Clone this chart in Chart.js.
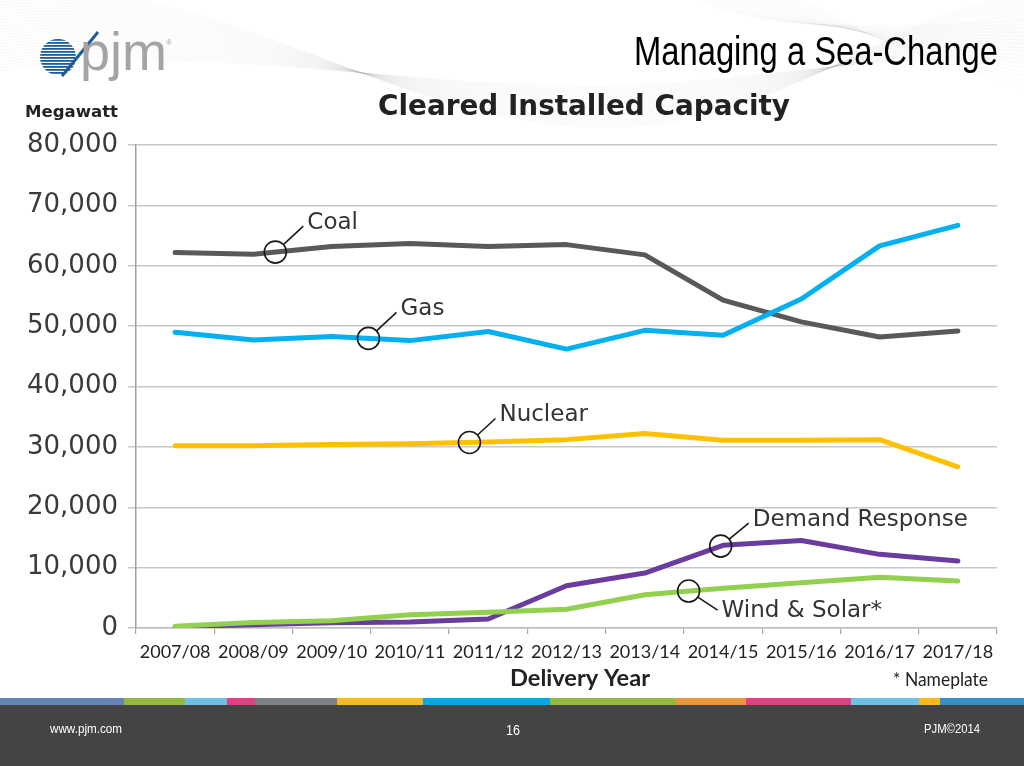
<!DOCTYPE html>
<html>
<head>
<meta charset="utf-8">
<script src="https://cdn.jsdelivr.net/npm/chart.js@4.4.1/dist/chart.umd.min.js"></script>
<style>
  html, body { margin: 0; padding: 0; background: #ffffff; }
  #wrap { width: 1024px; height: 766px; position: relative; }
  canvas { display: block; }
</style>
</head>
<body>
<div id="wrap"><canvas id="c" width="1024" height="766"></canvas></div>
<script>
// ---- Data ----
const categories = ['2007/08','2008/09','2009/10','2010/11','2011/12','2012/13','2013/14','2014/15','2015/16','2016/17','2017/18'];
const coal = [62200, 61900, 63200, 63700, 63200, 63500, 61800, 54300, 50700, 48200, 49200];
const gas = [49000, 47700, 48300, 47600, 49100, 46200, 49300, 48500, 54500, 63300, 66700];
const nuclear = [30200, 30200, 30400, 30500, 30800, 31200, 32200, 31100, 31100, 31200, 26700];
const demandResponse = [200, 550, 850, 1000, 1500, 7000, 9100, 13700, 14500, 12200, 11100];
const windSolar = [300, 900, 1200, 2200, 2600, 3100, 5500, 6600, 7500, 8400, 7800];
const yTicks = [0, 10000, 20000, 30000, 40000, 50000, 60000, 70000, 80000];

const seriesNames = ['Gas', 'Coal', 'Nuclear', 'Wind & Solar*', 'Demand Response'];
const seriesData = [gas, coal, nuclear, windSolar, demandResponse];
const seriesColors = ['#00b0f0', '#595959', '#ffc000', '#92d050', '#6a3c9e'];

// callouts: label text, series index, fractional category position, text offset
const callouts = [
  { text: 'Coal', series: 1, at: 1.28, dx: 32, dy: -29 },
  { text: 'Gas', series: 0, at: 2.47, dx: 32, dy: -29 },
  { text: 'Nuclear', series: 2, at: 3.76, dx: 30, dy: -27 },
  { text: 'Demand Response', series: 4, at: 6.97, dx: 32, dy: -26 },
  { text: 'Wind & Solar*', series: 3, at: 6.56, dx: 33, dy: 20 }
];

const stripeColors = ['#6585b8','#92b83e','#6ec1e4','#e0407f','#7b8087','#f5bb1d','#00a9e3','#92b83e','#e9963d','#e0407f','#6ec1e4','#f5bb1d','#3a8ec8'];
const stripeStops = [0,124,185,227,255,337,423,550,676,746,851,919,940,1024];

// ---- Plugins ----
const backgroundPlugin = {
  id: 'bg',
  beforeDraw(chart) {
    const ctx = chart.ctx;
    ctx.save();
    ctx.fillStyle = '#ffffff';
    ctx.fillRect(0, 0, 1024, 766);
    // faint decorative swooshes at the top
    ctx.lineWidth = 0.5;
    for (let i = 0; i < 28; i++) {
      ctx.strokeStyle = 'rgba(160,160,160,0.13)';
      ctx.beginPath();
      ctx.moveTo(0, -10 + i * 3);
      ctx.bezierCurveTo(230, -30 + i * 2.5, 420, 150 - i * 2, 650, 125 - i * 1.5);
      ctx.bezierCurveTo(820, 100 - i, 900, 10 + i * 1.5, 1024, -5 + i * 2.5);
      ctx.stroke();
    }
    for (let i = 0; i < 18; i++) {
      ctx.strokeStyle = 'rgba(160,160,160,0.12)';
      ctx.beginPath();
      ctx.moveTo(700 + i * 6, 0);
      ctx.bezierCurveTo(760 + i * 4, 30 - i, 880, 30 + i, 1024, 20 + i * 4);
      ctx.stroke();
    }
    // footer
    for (let i = 0; i < stripeColors.length; i++) {
      ctx.fillStyle = stripeColors[i];
      ctx.fillRect(stripeStops[i], 698, stripeStops[i + 1] - stripeStops[i], 7);
    }
    ctx.fillStyle = '#444444';
    ctx.fillRect(0, 705, 1024, 61);

    // logo emblem
    ctx.save();
    ctx.beginPath();
    ctx.arc(58, 57, 18, 0, Math.PI * 2);
    ctx.clip();
    ctx.fillStyle = '#1c5d99';
    for (let y = 39; y < 76; y += 3) {
      ctx.fillRect(40, y, 36, 1.8);
    }
    ctx.restore();
    ctx.strokeStyle = '#1c5d99';
    ctx.lineWidth = 3;
    ctx.beginPath();
    ctx.moveTo(62, 76);
    ctx.lineTo(98, 32);
    ctx.stroke();
    ctx.fillStyle = '#a4a4a4';
    ctx.font = '54px "Liberation Sans", Arial, sans-serif';
    ctx.textBaseline = 'alphabetic';
    ctx.textAlign = 'left';
    ctx.fillText('pjm', 80, 70);
    ctx.font = '8px "Liberation Sans", Arial, sans-serif';
    ctx.fillText('®', 166, 45);
    ctx.restore();
  }
};

function drawFitted(ctx, text, x, y, targetW, align) {
  const w = ctx.measureText(text).width;
  const s = targetW / w;
  ctx.save();
  ctx.textAlign = 'left';
  const left = align === 'right' ? x - targetW : (align === 'center' ? x - targetW / 2 : x);
  ctx.translate(left, y);
  ctx.scale(s, 1);
  ctx.fillText(text, 0, 0);
  ctx.restore();
}

const textPlugin = {
  id: 'texts',
  afterDraw(chart) {
    const ctx = chart.ctx;
    ctx.save();
    ctx.textBaseline = 'middle';
    // slide heading
    ctx.fillStyle = '#000000';
    ctx.font = '40px "Liberation Sans Narrow", "Liberation Sans", Arial, sans-serif';
    drawFitted(ctx, 'Managing a Sea-Change', 998, 54, 364, 'right');
    // chart title
    ctx.fillStyle = '#222222';
    ctx.font = 'bold 28px "DejaVu Sans", sans-serif';
    drawFitted(ctx, 'Cleared Installed Capacity', 378, 108, 412, 'left');
    // y axis unit
    ctx.font = 'bold 16px "DejaVu Sans", sans-serif';
    drawFitted(ctx, 'Megawatt', 25, 113, 93, 'left');
    // x axis title
    ctx.font = 'bold 22px "Lato", "DejaVu Sans", sans-serif';
    drawFitted(ctx, 'Delivery Year', 580, 679, 140, 'center');
    // footnote
    ctx.font = '19px "Lato", "DejaVu Sans", sans-serif';
    ctx.fillStyle = '#222222';
    drawFitted(ctx, '* Nameplate', 988, 680, 95, 'right');
    // footer texts
    ctx.fillStyle = '#ffffff';
    ctx.font = '12px "Liberation Sans", Arial, sans-serif';
    drawFitted(ctx, 'www.pjm.com', 50, 730, 72, 'left');
    ctx.font = '14px "Liberation Sans", Arial, sans-serif';
    drawFitted(ctx, '16', 513, 731, 14, 'center');
    ctx.font = '12px "Liberation Sans", Arial, sans-serif';
    drawFitted(ctx, 'PJM\u00a92014', 924, 730, 56, 'left');
    ctx.restore();
  }
};

const calloutPlugin = {
  id: 'callouts',
  afterDatasetsDraw(chart) {
    const ctx = chart.ctx;
    const xs = chart.scales.x, ys = chart.scales.y;
    ctx.save();
    callouts.forEach(c => {
      const data = seriesData[c.series];
      const i0 = Math.floor(c.at), f = c.at - i0;
      const v = data[i0] + (data[i0 + 1] - data[i0]) * f;
      const cx = xs.getPixelForValue(c.at);
      const cy = ys.getPixelForValue(v);
      const r = 11;
      ctx.strokeStyle = '#1a1a1a';
      ctx.lineWidth = 1.6;
      ctx.beginPath();
      ctx.arc(cx, cy, r, 0, Math.PI * 2);
      ctx.stroke();
      const tx = cx + c.dx, ty = cy + c.dy;
      const ex = tx - 4, ey = ty + (c.dy < 0 ? 3 : -1);
      const ang = Math.atan2(ey - cy, ex - cx);
      ctx.beginPath();
      ctx.moveTo(cx + r * Math.cos(ang), cy + r * Math.sin(ang));
      ctx.lineTo(ex, ey);
      ctx.stroke();
      ctx.fillStyle = '#333333';
      ctx.font = '23px "DejaVu Sans", sans-serif';
      ctx.textBaseline = 'middle';
      ctx.textAlign = 'left';
      ctx.fillText(c.text, tx, ty);
    });
    ctx.restore();
  }
};

// ---- Chart ----
const datasets = seriesNames.map((name, i) => ({
  label: name,
  data: seriesData[i],
  borderColor: seriesColors[i],
  backgroundColor: seriesColors[i],
  borderWidth: 5,
  pointRadius: 0,
  pointHoverRadius: 0,
  tension: 0,
  borderCapStyle: 'round',
  borderJoinStyle: 'round',
  fill: false
}));

new Chart(document.getElementById('c'), {
  type: 'line',
  data: { labels: categories, datasets },
  options: {
    responsive: false,
    animation: false,
    devicePixelRatio: 1,
    layout: { padding: { top: 145, right: 27, bottom: 0, left: 0 } },
    plugins: {
      legend: { display: false },
      title: { display: false },
      tooltip: { enabled: false }
    },
    scales: {
      x: {
        type: 'category',
        offset: true,
        afterFit(scale) { scale.height = 138; },
        grid: {
          display: true,
          drawOnChartArea: false,
          offset: true,
          drawTicks: true,
          tickLength: 6,
          color: '#a8a8a8',
          lineWidth: 1.2
        },
        border: { display: true, color: '#bdbdbd', width: 1.5 },
        ticks: {
          padding: 7,
          maxRotation: 0,
          autoSkip: false,
          color: '#222222',
          font: { family: '"Lato", "Liberation Sans", sans-serif', size: 18 }
        }
      },
      y: {
        min: 0,
        max: 80000,
        afterFit(scale) { scale.width = 136; },
        afterBuildTicks(scale) { scale.ticks = yTicks.map(v => ({ value: v })); },
        grid: {
          color: '#c8c8c8',
          lineWidth: 1.5,
          drawTicks: true,
          tickLength: 8
        },
        border: { display: true, color: '#a0a0a0', width: 1.5 },
        ticks: {
          padding: 10,
          color: '#3a3a3a',
          font: { family: '"DejaVu Sans", sans-serif', size: 26 },
          callback: (v) => Number(v).toLocaleString('en-US')
        }
      }
    }
  },
  plugins: [backgroundPlugin, calloutPlugin, textPlugin]
});
</script>
</body>
</html>
